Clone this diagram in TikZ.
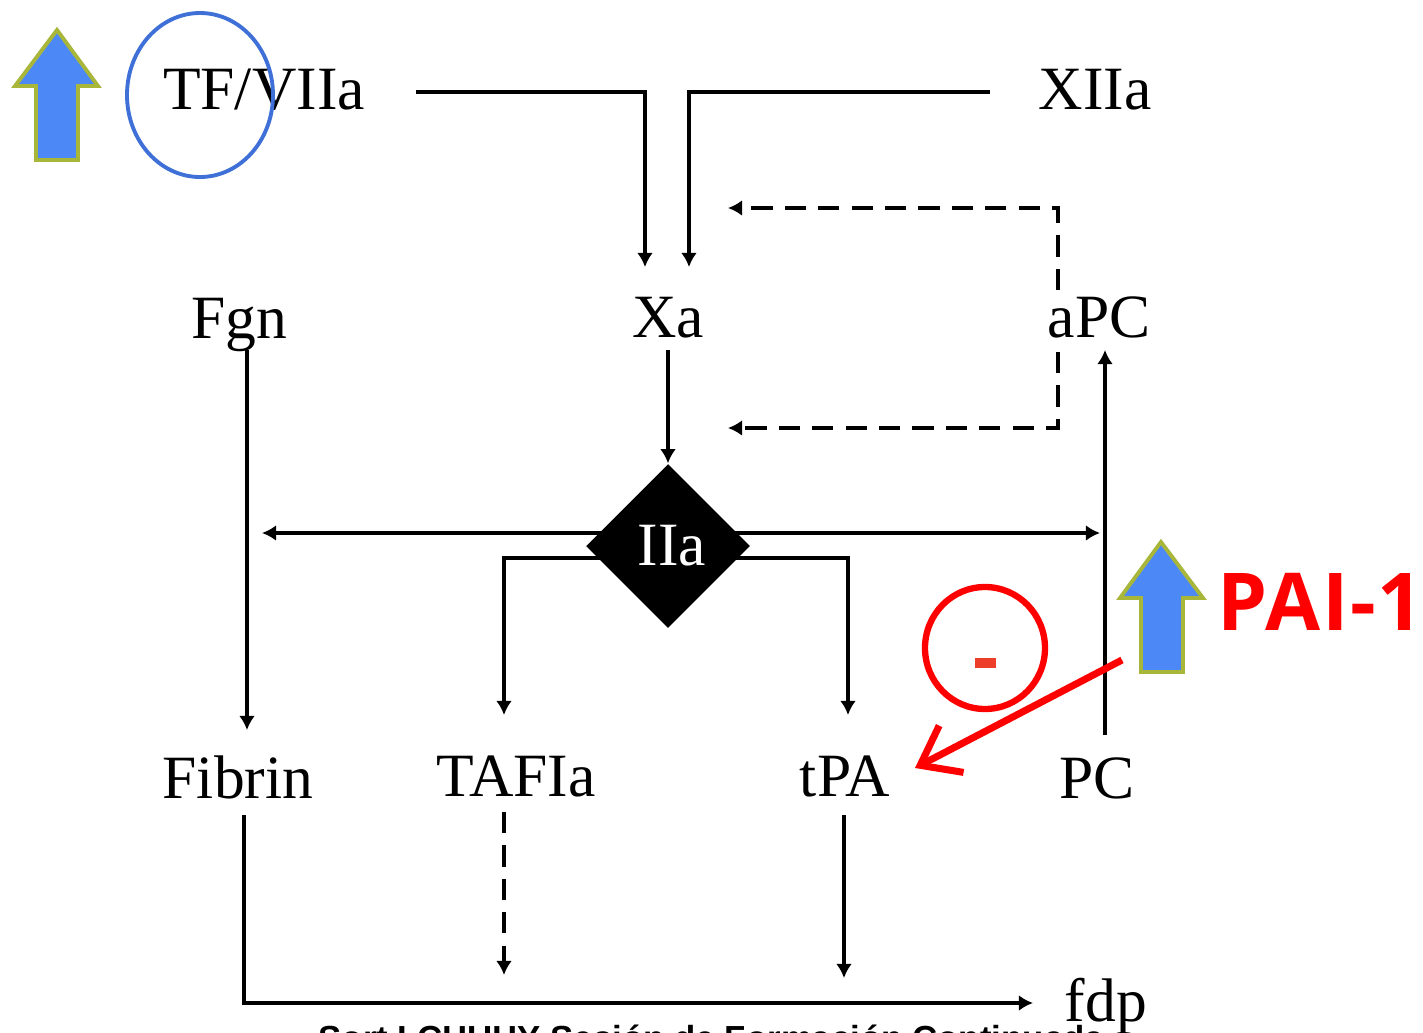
\documentclass[tikz,border=0pt]{standalone}
\usepackage{fontspec}
\setmainfont{Liberation Serif}
\newfontfamily\paifont[LetterSpace=2]{Open Sans}
\newfontfamily\notefont{Liberation Sans}
\usetikzlibrary{arrows.meta,shapes.geometric,backgrounds}

\definecolor{upblue}{RGB}{77,136,247}
\definecolor{upedge}{RGB}{168,182,58}
\definecolor{ringblue}{RGB}{62,112,215}
\definecolor{minusred}{RGB}{236,62,40}

\tikzset{
  lbl/.style={font=\fontsize{17.5}{20}\selectfont, inner sep=0pt, anchor=base},
  flow/.style={line width=0.9pt, -{Latex[length=4pt,width=4.5pt]}},
  backflow/.style={flow, dash pattern=on 6pt off 3.5pt},
  uparrow/.style={fill=upblue, draw=upedge, line width=1.1pt, line join=miter},
}

\begin{document}
\begin{tikzpicture}[x=0.01cm, y=-0.01cm]
  \useasboundingbox (0,0) rectangle (1423,1033);

  % factors
  \node[lbl] (tf) at (264,109) {TF/VIIa};
  \node[lbl] (xiia) at (1095,109) {XIIa};
  \node[lbl] (xa) at (668,337) {Xa};
  \node[lbl] (apc) at (1099,337) {aPC};
  \node[lbl] (fgn) at (239,338) {Fgn};
  \node[lbl] (fibrin) at (238,798) {Fibrin};
  \node[lbl] (tafia) at (516,796) {TAFIa};
  \node[lbl] (tpa) at (845,796) {tPA};
  \node[lbl] (pc) at (1097,798) {PC};
  \node[lbl] (fdp) at (1106,1021) {fdp};
  \node[diamond, fill=black, minimum size=1.64cm, inner sep=0pt] (iia) at (668,546) {};
  \node[lbl, text=white] (iialbl) at (672,565) {IIa};

  % line ends
  \coordinate (tfout) at (416,92);
  \coordinate (xiiaout) at (990,92);
  \coordinate (xain1) at (645,267);
  \coordinate (xain2) at (689,267);
  \coordinate (apcup) at (1058,290);
  \coordinate (apcdown) at (1058,352);
  \coordinate (fbtop) at (728,208);
  \coordinate (fbbot) at (728,428);
  \coordinate (fgnleft) at (262,533);
  \coordinate (pcright) at (1100,533);
  \coordinate (fdpin) at (1033,1003);

  \draw[flow] (tfout) -| (xain1);
  \draw[flow] (xiiaout) -| (xain2);
  \draw[flow] (668,350) -- (iia.north);
  \draw[backflow] (apcup) |- (fbtop);
  \draw[backflow] (apcdown) |- (fbbot);

  \begin{pgfonlayer}{background}
    \draw[flow] (iia.center |- 0,533) -- (fgnleft);
    \draw[flow] (iia.center |- 0,533) -- (pcright);
    \draw[flow] (iia.center |- 0,558) -| (504,715);
    \draw[flow] (iia.center |- 0,558) -| (848,715);
  \end{pgfonlayer}

  \draw[flow] (247,350) -- (247,730);
  \draw[flow] (1105,735) -- (1105,350);
  \draw[flow] (244,815) -- (244,1003) -- (fdpin);
  \draw[backflow] (504,812) -- (504,975);
  \draw[flow] (844,815) -- (844,978);

  % highlights
  \draw[uparrow] (57,30) -- (98,86) -- (78,86) -- (78,160) -- (36,160) -- (36,86) -- (15,86) -- cycle;
  \draw[ringblue, line width=1.1pt] (200,95) ellipse [x radius=73, y radius=82];
  \draw[uparrow] (1161,542) -- (1203,598) -- (1183,598) -- (1183,672) -- (1141,672) -- (1141,598) -- (1120,598) -- cycle;
  \node[font=\paifont\bfseries\fontsize{22.7}{26}\selectfont, text=red, anchor=base west, inner sep=0pt] (pai) at (1217,630) {PAI-1};
  \draw[red, line width=1.8pt] (985,648) ellipse [x radius=60, y radius=61];
  \fill[minusred] (975,658) rectangle (996,668);
  \coordinate (paiout) at (1122,660);
  \coordinate (tpain) at (915,768);
  \draw[red, line width=2pt, -{Straight Barb[length=10pt,width=15pt]}] (paiout) -- (tpain);

  % cut caption
  \node[font=\notefont\bfseries\fontsize{9.9}{11}\selectfont, anchor=base west, inner sep=0pt] (note) at (318,1050) {Sort I CHUHY Sesión de Formación Continuada};
\end{tikzpicture}
\end{document}
